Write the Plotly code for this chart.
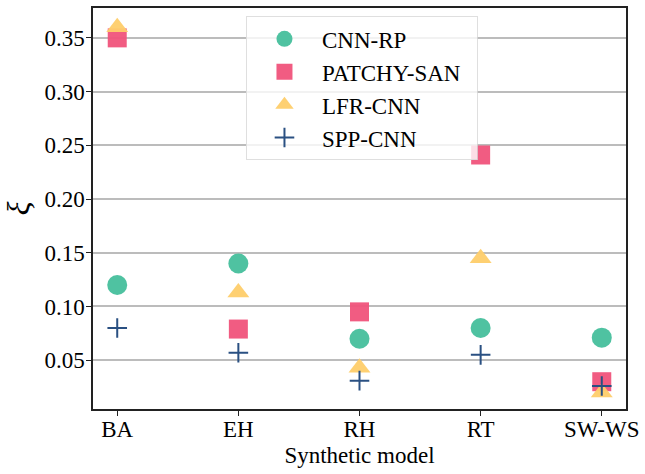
import plotly.graph_objects as go

# Synthetic network models on the x axis
models = ["BA", "EH", "RH", "RT", "SW-WS"]

# Error xi for each method
cnn_rp = [0.120, 0.140, 0.070, 0.080, 0.071]
patchy_san = [0.350, 0.079, 0.095, 0.241, 0.030]
lfr_cnn = [0.360, 0.113, 0.043, 0.145, 0.020]
spp_cnn = [0.080, 0.057, 0.031, 0.055, 0.026]

y_ticks = [0.05, 0.10, 0.15, 0.20, 0.25, 0.30, 0.35]
y_tick_text = ["0.05", "0.10", "0.15", "0.20", "0.25", "0.30", "0.35"]

FONT = "Liberation Serif, Times New Roman, serif"

series = [
    ("CNN-RP", cnn_rp, "circle", 20, "#46BF9C"),
    ("PATCHY-SAN\u00a0\u00a0", patchy_san, "square", 19, "#F0537B"),
    ("LFR-CNN", lfr_cnn, "triangle-up", 19, "#FECD6A"),
]

fig = go.Figure()
for name, vals, sym, size, color in series:
    fig.add_trace(go.Scatter(
        x=models, y=vals, mode="markers", name=name,
        marker=dict(symbol=sym, size=size, color=color, opacity=0.95,
                    line=dict(width=0)),
    ))

fig.add_trace(go.Scatter(
    x=models, y=spp_cnn, mode="markers", name="SPP-CNN",
    marker=dict(symbol="cross-thin", size=14,
                line=dict(width=2, color="#2A5082")),
))

fig.update_layout(
    width=645, height=474,
    margin=dict(l=93, r=16, t=6, b=65),
    paper_bgcolor="white", plot_bgcolor="white",
    font=dict(family=FONT, size=23, color="black"),
    showlegend=True,
    legend=dict(
        x=0.287, y=0.979, xanchor="left", yanchor="top",
        bgcolor="rgba(255,255,255,0.8)",
        bordercolor="rgba(215,215,215,0.8)", borderwidth=1,
        font=dict(family=FONT, size=23, color="black"),
        itemwidth=65,
    ),
)

fig.update_xaxes(
    range=[-0.2, 4.2],
    showline=True, linecolor="#222", linewidth=1.5, mirror=True,
    ticks="outside", ticklen=5, tickwidth=1.2, tickcolor="#222",
    ticklabelstandoff=-6,
    showgrid=False, zeroline=False,
    title=dict(text="Synthetic model", font=dict(family=FONT, size=23), standoff=6),
    tickfont=dict(family=FONT, size=23),
)
fig.update_yaxes(
    range=[0.0046, 0.3778],
    tickvals=y_ticks, ticktext=y_tick_text,
    showline=True, linecolor="#222", linewidth=1.5, mirror=True,
    ticks="outside", ticklen=5, tickwidth=1.2, tickcolor="#222",
    ticklabelstandoff=-3,
    showgrid=True, gridcolor="#bcbcbc", gridwidth=1.5, zeroline=False,
    title=dict(text="<i>ξ</i>", font=dict(family=FONT, size=32), standoff=10),
    tickfont=dict(family=FONT, size=23),
)

fig.write_html("out.html")
